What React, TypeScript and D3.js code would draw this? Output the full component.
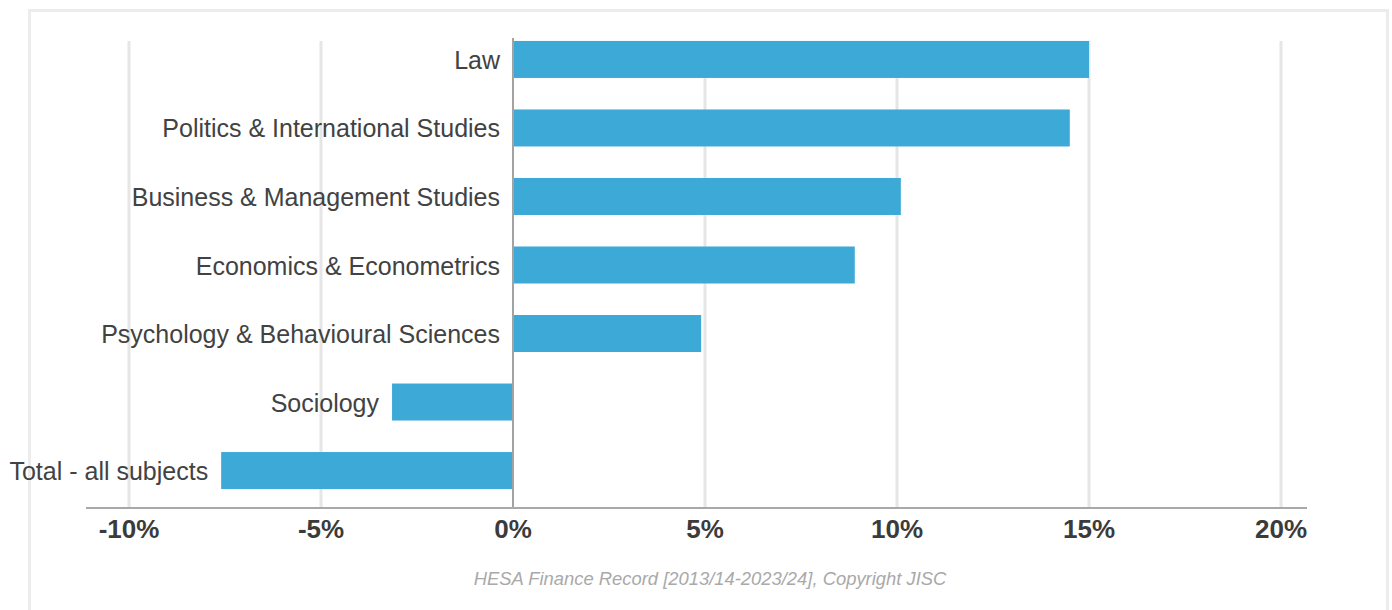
import React from "react";
import * as d3 from "d3";

const categories = [
  "Law",
  "Politics & International Studies",
  "Business & Management Studies",
  "Economics & Econometrics",
  "Psychology & Behavioural Sciences",
  "Sociology",
  "Total - all subjects",
];
const values = [15.0, 14.5, 10.1, 8.9, 4.9, -3.15, -7.6];
const tickValues = [-10, -5, 0, 5, 10, 15, 20];
const tickLabels = ["-10%", "-5%", "0%", "5%", "10%", "15%", "20%"];
const sourceText = "HESA Finance Record [2013/14-2023/24], Copyright JISC";

const W = 1392;
const H = 610;

export default function App() {
  const x = d3.scaleLinear().domain([-10, 20]).range([129, 1281]);
  const y = d3
    .scaleBand<string>()
    .domain(categories)
    .range([25.2, 504.8])
    .paddingInner(0.46)
    .paddingOuter(0.23);
  const axisY = 508;
  const labelFont = "'Liberation Sans', Arial, sans-serif";

  return (
    <svg
      width={W}
      height={H}
      style={{ position: "absolute", left: 0, top: 0, background: "#fff" }}
    >
      <rect x={29.5} y={10.5} width={1358} height={620} fill="#fff" stroke="#ececec" strokeWidth={3} />
      {tickValues.map((t) => (
        <line
          key={"g" + t}
          x1={x(t)}
          x2={x(t)}
          y1={41}
          y2={axisY}
          stroke={t === 0 ? "#a3a3a3" : "#e6e6e6"}
          strokeWidth={t === 0 ? 2 : 3}
        />
      ))}
      {categories.map((c, i) => {
        const v = values[i];
        const x0 = Math.min(x(0), x(v));
        const x1 = Math.max(x(0), x(v));
        return (
          <g key={c}>
            <rect x={x0} y={y(c)} width={x1 - x0} height={y.bandwidth()} fill="#3da9d6" />
            <text
              x={x0 - 13}
              y={(y(c) as number) + y.bandwidth() / 2 + 9.5}
              textAnchor="end"
              fontFamily={labelFont}
              fontSize={25}
              fill="#424242"
            >
              {c}
            </text>
          </g>
        );
      })}
      <line x1={x(0)} x2={x(0)} y1={38} y2={axisY} stroke="#a3a3a3" strokeWidth={2} />
      <line x1={86} x2={1307} y1={axisY} y2={axisY} stroke="#a8a8a8" strokeWidth={2} />
      {tickValues.map((t, i) => (
        <text
          key={"t" + t}
          x={x(t)}
          y={538}
          textAnchor="middle"
          fontFamily={labelFont}
          fontWeight="bold"
          fontSize={26}
          fill="#3b3b3b"
        >
          {tickLabels[i]}
        </text>
      ))}
      <text
        x={710}
        y={585}
        textAnchor="middle"
        fontFamily={labelFont}
        fontStyle="italic"
        fontSize={18.4}
        fill="#a9a9a9"
      >
        {sourceText}
      </text>
    </svg>
  );
}
